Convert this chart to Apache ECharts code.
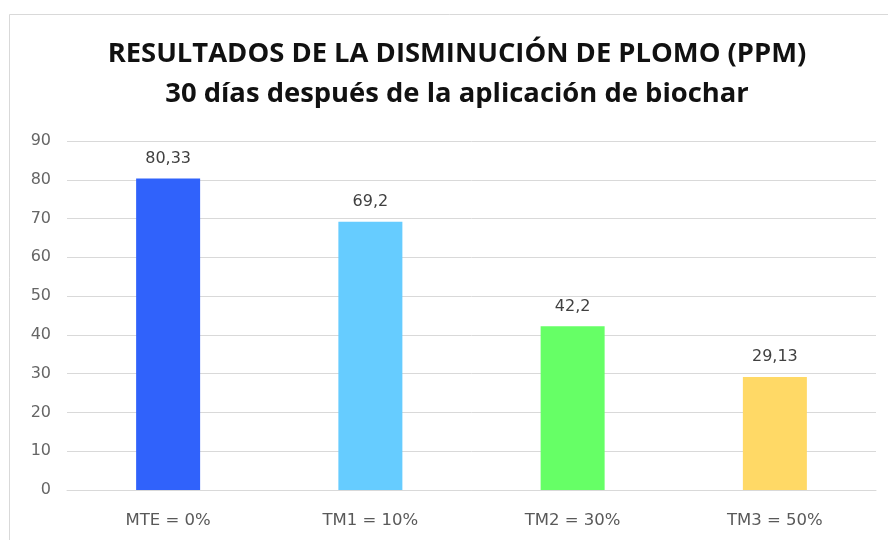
<!DOCTYPE html>
<html><head><meta charset="utf-8">
<script src="https://cdn.jsdelivr.net/npm/echarts@6/dist/echarts.min.js"></script>
<style>html,body{margin:0;padding:0;background:#fff}#c{width:888px;height:540px}</style>
</head><body><div id="c"></div>
<script>
const categories = ['MTE = 0%', 'TM1 = 10%', 'TM2 = 30%', 'TM3 = 50%'];
const values = [80.33, 69.2, 42.2, 29.13];
const barColors = ['#3062FB', '#66CCFF', '#66FF66', '#FFD966'];
const titleLine1 = 'RESULTADOS DE LA DISMINUCIÓN DE PLOMO (PPM)';
const titleLine2 = '30 días después de la aplicación de biochar';

const chart = echarts.init(document.getElementById('c'), null, {renderer: 'canvas'});
chart.setOption({
  animation: false,
  backgroundColor: '#fff',
  graphic: [{
    type: 'rect', left: 7, top: 12, shape: {width: 900, height: 560},
    style: {fill: 'none', stroke: '#d9d9d9', lineWidth: 1}, silent: true
  }],
  title: {
    text: titleLine1 + '\n' + titleLine2,
    left: 457, top: 34, padding: 0, textAlign: 'center',
    textStyle: {fontFamily: 'Open Sans, sans-serif', fontWeight: 'bold', fontSize: 27.4, lineHeight: 40, color: '#111'}
  },
  grid: {left: 67, right: 12, top: 141, bottom: 50, containLabel: false},
  xAxis: {
    type: 'category', data: categories,
    axisLine: {lineStyle: {color: '#d9d9d9'}},
    axisTick: {show: false},
    axisLabel: {color: '#595959', fontSize: 16.5, margin: 22, fontFamily: 'DejaVu Sans, sans-serif'}
  },
  yAxis: {
    type: 'value', min: 0, max: 90, interval: 10,
    axisLine: {show: false}, axisTick: {show: false},
    splitLine: {lineStyle: {color: '#d9d9d9'}},
    axisLabel: {color: '#666666', fontSize: 16, margin: 16, fontFamily: 'DejaVu Sans, sans-serif'}
  },
  series: [{
    type: 'bar', barWidth: 64,
    data: values.map((v, i) => ({value: v, itemStyle: {color: barColors[i]}})),
    label: {
      show: true, position: 'top', distance: 12, color: '#404040', fontSize: 16,
      fontFamily: 'DejaVu Sans, sans-serif',
      formatter: p => String(p.value).replace('.', ',')
    }
  }]
});
</script></body></html>
